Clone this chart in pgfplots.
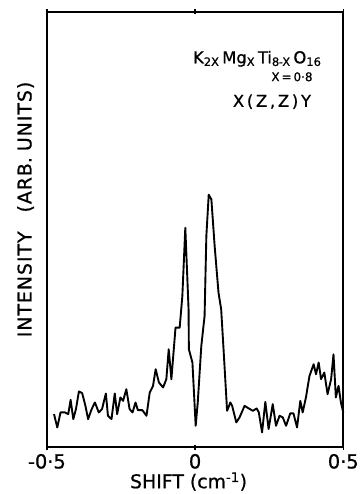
\documentclass[border=0pt]{standalone}
\usepackage{fontspec}
\setmainfont{DejaVu Sans}[FakeBold=0.8]
\usepackage{pgfplots}
\pgfplotsset{compat=1.18}
\begin{document}
\begin{tikzpicture}
\begin{axis}[
  scale only axis,
  width=297bp, height=436bp,
  xmin=-0.5, xmax=0.5, ymin=0, ymax=100,
  axis line style={line width=1.8pt},
  xtick={-0.5,0,0.5},
  xticklabels={{-0·5},{0},{0·5}},
  xtick align=center,
  major tick length=5pt,
  tick style={line width=1.5pt, black},
  ytick=\empty,
  xticklabel style={font=\fontsize{19.5}{19.5}\selectfont, yshift=-1pt},
  /pgf/number format/assume math mode=true,
  xlabel={SHIFT (cm\textsuperscript{-1})},
  xlabel style={font=\fontsize{19}{19}\selectfont, at={(axis description cs:0.478,-0.05)}, anchor=north},
  ylabel={I\kern1pt N\kern1pt T\kern1pt E\kern1pt N\kern1pt S\kern1pt I\kern1pt T\kern1pt Y\quad(\kern1pt A\kern1pt R\kern1pt B.\ U\kern1pt N\kern1pt I\kern1pt T\kern1pt S\kern1pt)},
  ylabel style={font=\fontsize{19}{19}\selectfont, at={(axis description cs:-0.072,0.546)}, anchor=center, rotate=0},
  clip=false,
]
\addplot[black, line width=1.9pt, line join=round] coordinates {
(-0.476,7.57) (-0.465,4.5) (-0.454,7.96) (-0.439,7.96) (-0.428,7.57)
(-0.420,10.85) (-0.411,6.42) (-0.402,8.72) (-0.392,12.78) (-0.381,12.39)
(-0.370,9.47) (-0.361,6.42) (-0.349,8.72) (-0.338,10.25) (-0.325,7.96)
(-0.314,8.72) (-0.301,12.32) (-0.294,7.18) (-0.282,6.42) (-0.271,12.32)
(-0.263,7.57) (-0.252,11.4) (-0.243,10.62) (-0.232,13.3) (-0.221,8.72)
(-0.211,7.96) (-0.201,10.25) (-0.193,8.49) (-0.178,8.49) (-0.164,7.18)
(-0.153,12.55) (-0.142,14.06) (-0.133,17.89) (-0.122,14.84) (-0.108,13.69)
(-0.097,15.6) (-0.089,22.48) (-0.080,15.6) (-0.066,27.45) (-0.052,27.45)
(-0.043,34.7) (-0.033,50.4) (-0.022,31.65) (-0.021,22.48) (-0.009,19.43)
(0.002,4.89) (0.009,10.25) (0.021,23.24) (0.032,30.1) (0.038,48.5)
(0.046,58.0) (0.055,56.9) (0.066,46.2) (0.079,35.5) (0.088,31.65)
(0.096,22.48) (0.108,8.33) (0.119,10.25) (0.125,9.47) (0.139,5.66)
(0.150,6.81) (0.167,9.47) (0.181,8.88) (0.195,8.33) (0.208,8.88)
(0.215,7.96) (0.226,3.37) (0.237,10.39) (0.248,4.13) (0.262,9.86)
(0.273,4.89) (0.285,7.18) (0.296,6.81) (0.307,4.89) (0.321,7.73)
(0.332,7.73) (0.344,4.5) (0.355,10.62) (0.363,7.96) (0.374,11.4)
(0.386,16.35) (0.400,19.04) (0.408,16.74) (0.417,19.43) (0.425,15.6)
(0.436,17.13) (0.447,12.16) (0.459,15.6) (0.467,21.33) (0.475,11.4)
(0.484,14.06) (0.492,10.25) (0.500,7.96)
};
\node[anchor=base east, font=\fontsize{16.5}{16.5}\selectfont, inner sep=0pt] at (axis cs:0.427,88.2) {K\textsubscript{2X}\,Mg\textsubscript{X}\,Ti\textsubscript{8\kern-0.5pt-X}\,O\textsubscript{16}};
\node[anchor=base east, font=\fontsize{12}{12}\selectfont, inner sep=0pt] at (axis cs:0.397,84.1) {X\,=\,0·8};
\node[anchor=base east, font=\fontsize{16.5}{16.5}\selectfont, inner sep=0pt] at (axis cs:0.392,78.2) {X\,(\,Z\,,\,Z\,)\,Y};
\coordinate (bl) at (rel axis cs:0,0);
\coordinate (tr) at (rel axis cs:1,1);
\end{axis}
\path (bl) ++(-47bp,-46bp) coordinate (a);
\path (tr) ++(10bp,12bp) coordinate (b);
\path (a) rectangle (b);
\end{tikzpicture}
\end{document}
